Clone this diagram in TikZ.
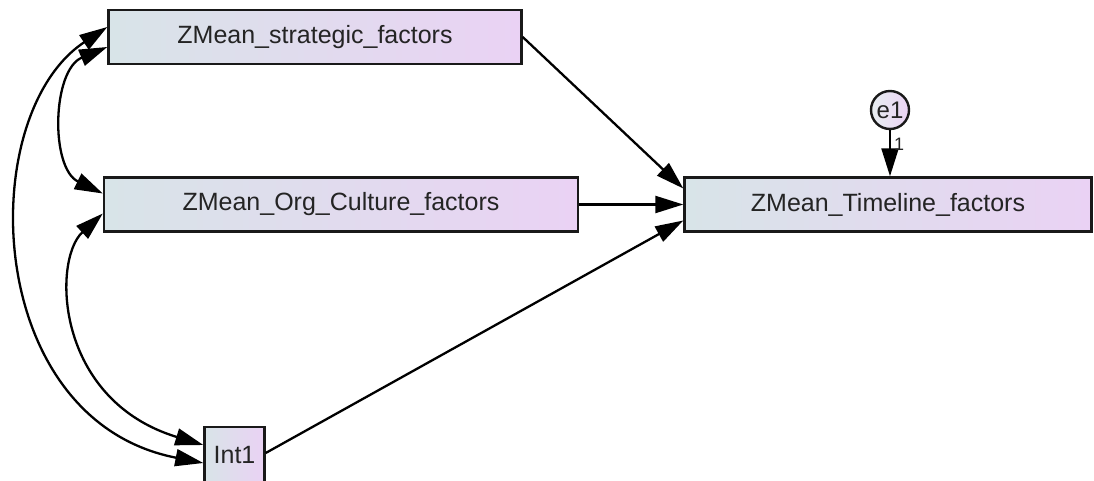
\documentclass[tikz,border=0pt]{standalone}
\usepackage{fontspec}
\setmainfont{Liberation Sans}
\usetikzlibrary{arrows.meta}

\definecolor{boxL}{RGB}{216,228,232}
\definecolor{boxR}{RGB}{234,210,244}
\definecolor{txt}{RGB}{36,36,36}

\tikzset{
  var/.style={draw=black!90, line width=2.4pt, left color=boxL, right color=boxR,
    text=txt, font=\fontsize{25}{30}\selectfont, inner sep=0pt, anchor=center},
  errvar/.style={circle, draw=black!90, line width=2.4pt, left color=boxL!60!white,
    right color=boxR, text=txt, font=\fontsize{24}{28}\selectfont,
    minimum size=38pt, inner sep=0pt},
  path/.style={line width=2.3pt, draw=black,
    -{Triangle[length=28pt,width=17pt]}},
  covar/.style={line width=2.3pt, draw=black,
    {Triangle[length=28pt,width=17pt]}-{Triangle[length=28pt,width=17pt]}},
  weight/.style={text=txt, font=\fontsize{18}{20}\selectfont, inner sep=0pt}
}

\begin{document}
\begin{tikzpicture}[x=1pt, y=-1pt]
  \useasboundingbox (0,0) rectangle (1094,481);
  \clip (0,0) rectangle (1094,481);

  % observed variables
  \node[var, minimum width=413pt, minimum height=54pt] (strat) at (315,37)
    {ZMean\_strategic\_factors};
  \node[var, minimum width=474pt, minimum height=54pt] (org) at (341,204.5)
    {ZMean\_Org\_Culture\_factors};
  \node[var, minimum width=407pt, minimum height=54pt] (tl) at (888,204.5)
    {ZMean\_Timeline\_factors};
  \node[var, minimum width=60pt, minimum height=56pt] (int) at (234.5,455)
    {Int1};

  % error term
  \node[errvar] (e1) at (890,110) {e1};

  % regression paths
  \draw[path] (strat.east) -- ([yshift=16pt]tl.west);
  \draw[path] (org.east) -- (tl.west);
  \draw[path] ([yshift=2pt]int.east) -- ([yshift=-16pt]tl.west);
  \draw[path] (e1.south) -- (e1.south |- tl.north)
    node[weight, pos=0.3, right=3pt] {1};

  % covariances
  \draw[covar] ([yshift=-10pt]strat.west) .. controls (52,70) and (50,168) ..
    ([yshift=11pt]org.west);
  \draw[covar] ([yshift=-9pt]org.west) .. controls (52,260) and (55,400) ..
    ([yshift=10pt]int.west);
  \draw[covar] ([yshift=10pt]strat.west) .. controls (-26,115) and (-18,420) ..
    ([yshift=-8pt]int.west);
\end{tikzpicture}
\end{document}
